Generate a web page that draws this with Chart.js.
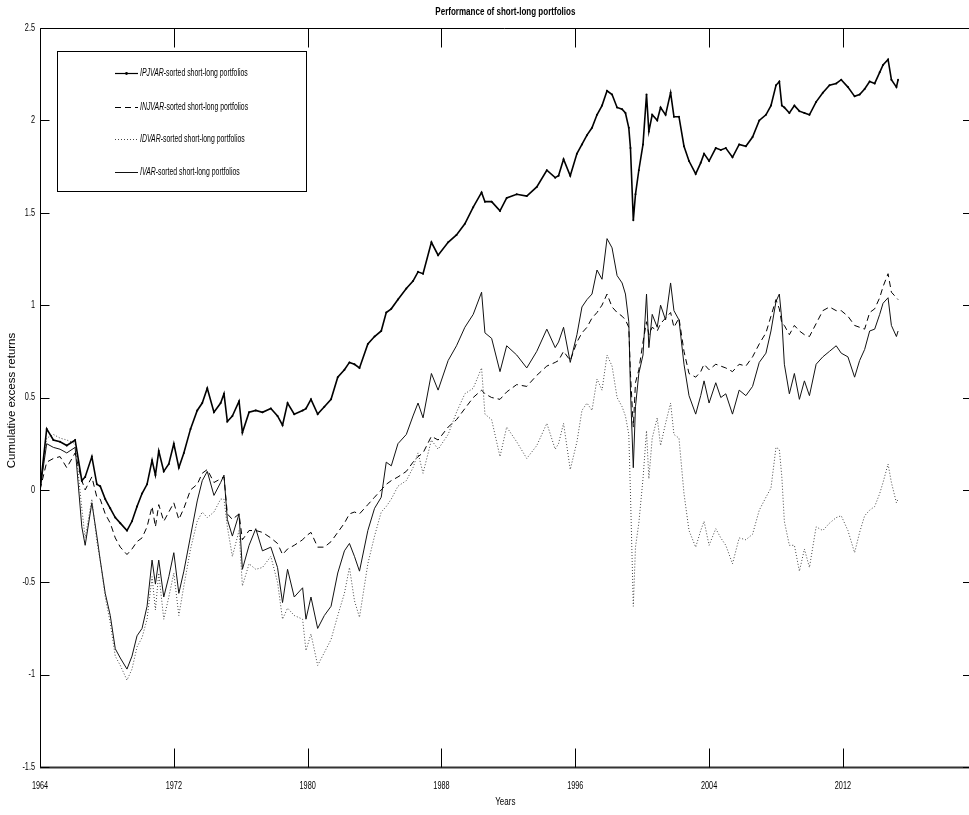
<!DOCTYPE html>
<html>
<head>
<meta charset="utf-8">
<title>Performance of short-long portfolios</title>
<script src="https://cdn.jsdelivr.net/npm/chart.js@4.4.1/dist/chart.umd.min.js"></script>
<style>
    html, body { margin: 0; padding: 0; background: #fff; }
    canvas { display: block; }
</style>
</head>
<body>
<canvas id="perfChart" width="969" height="815"></canvas>
<script>
// sample dates (decimal years) shared by all four series
const years = [
    1964.0, 1964.4, 1964.8, 1965.2, 1965.6, 1966.1, 1966.5, 1966.7, 1967.1, 1967.4,
    1967.6, 1967.9, 1968.2, 1968.5, 1968.8, 1969.2, 1969.5, 1969.8, 1970.1, 1970.4,
    1970.7, 1970.9, 1971.1, 1971.4, 1971.7, 1972.0, 1972.3, 1972.6, 1973.0, 1973.4,
    1973.7, 1974.0, 1974.4, 1974.8, 1975.0, 1975.2, 1975.5, 1975.9, 1976.1, 1976.5,
    1976.9, 1977.3, 1977.8, 1978.2, 1978.5, 1978.8, 1979.2, 1979.7, 1979.9, 1980.2,
    1980.6, 1981.0, 1981.4, 1981.8, 1982.2, 1982.5, 1982.8, 1983.1, 1983.6, 1984.0,
    1984.4, 1984.7, 1985.0, 1985.4, 1985.9, 1986.3, 1986.6, 1986.9, 1987.4, 1987.8,
    1988.4, 1988.9, 1989.4, 1989.9, 1990.4, 1990.6, 1991.0, 1991.5, 1991.9, 1992.5,
    1993.1, 1993.7, 1994.3, 1994.8, 1995.0, 1995.3, 1995.7, 1996.1, 1996.4, 1996.7,
    1997.0, 1997.3, 1997.6, 1997.9, 1998.2, 1998.5, 1998.8, 1999.0, 1999.2, 1999.3,
    1999.47, 1999.6, 1999.8, 2000.05, 2000.26, 2000.4, 2000.6, 2000.9, 2001.1, 2001.4,
    2001.7, 2001.9, 2002.2, 2002.5, 2002.8, 2003.2, 2003.5, 2003.7, 2004.0, 2004.4,
    2004.7, 2005.0, 2005.4, 2005.8, 2006.2, 2006.6, 2007.0, 2007.4, 2007.7, 2008.0,
    2008.2, 2008.35, 2008.5, 2008.8, 2009.1, 2009.4, 2009.7, 2010.0, 2010.4, 2010.8,
    2011.2, 2011.6, 2011.9, 2012.3, 2012.7, 2013.0, 2013.3, 2013.6, 2013.9, 2014.2,
    2014.4, 2014.7, 2014.9, 2015.2, 2015.3
];

const ipjvar = [
    0.00, 0.33, 0.27, 0.26, 0.24, 0.27, 0.05, 0.07, 0.18, 0.03,
    0.02, -0.05, -0.10, -0.15, -0.18, -0.22, -0.17, -0.09, -0.02, 0.03,
    0.16, 0.08, 0.21, 0.10, 0.14, 0.25, 0.12, 0.20, 0.33, 0.43,
    0.47, 0.55, 0.42, 0.47, 0.52, 0.37, 0.40, 0.48, 0.31, 0.42,
    0.43, 0.42, 0.44, 0.40, 0.35, 0.47, 0.41, 0.43, 0.44, 0.49,
    0.41, 0.45, 0.49, 0.61, 0.65, 0.69, 0.68, 0.66, 0.79, 0.83,
    0.86, 0.96, 0.98, 1.03, 1.09, 1.13, 1.18, 1.17, 1.34, 1.27,
    1.34, 1.38, 1.44, 1.53, 1.61, 1.56, 1.56, 1.51, 1.58, 1.60,
    1.59, 1.64, 1.73, 1.69, 1.70, 1.79, 1.70, 1.82, 1.87, 1.92,
    1.96, 2.03, 2.08, 2.16, 2.14, 2.07, 2.06, 2.04, 1.96, 1.85,
    1.46, 1.60, 1.73, 1.87, 2.14, 1.94, 2.03, 2.00, 2.07, 2.03,
    2.15, 2.02, 2.02, 1.86, 1.78, 1.71, 1.77, 1.82, 1.78, 1.85,
    1.84, 1.85, 1.80, 1.87, 1.86, 1.91, 2.00, 2.03, 2.08, 2.19,
    2.21, 2.08, 2.07, 2.04, 2.08, 2.05, 2.04, 2.03, 2.10, 2.15,
    2.19, 2.20, 2.22, 2.18, 2.13, 2.14, 2.17, 2.21, 2.20, 2.26,
    2.30, 2.33, 2.22, 2.18, 2.22
];

const injvar = [
    0.00, 0.15, 0.17, 0.18, 0.12, 0.20, 0.05, 0.00, 0.07, -0.04,
    -0.05, -0.13, -0.18, -0.26, -0.31, -0.35, -0.32, -0.28, -0.26, -0.20,
    -0.09, -0.20, -0.08, -0.17, -0.12, -0.07, -0.16, -0.10, 0.00, 0.03,
    0.09, 0.11, 0.04, 0.06, 0.07, -0.13, -0.16, -0.13, -0.27, -0.22,
    -0.22, -0.23, -0.26, -0.29, -0.35, -0.32, -0.30, -0.27, -0.25, -0.23,
    -0.31, -0.31, -0.28, -0.23, -0.18, -0.13, -0.12, -0.13, -0.08, -0.04,
    0.00, 0.03, 0.05, 0.07, 0.10, 0.15, 0.18, 0.20, 0.29, 0.27,
    0.34, 0.38, 0.44, 0.50, 0.54, 0.52, 0.50, 0.49, 0.53, 0.57,
    0.56, 0.62, 0.67, 0.69, 0.70, 0.75, 0.70, 0.80, 0.85, 0.88,
    0.93, 0.96, 1.00, 1.06, 0.99, 0.96, 0.94, 0.92, 0.88, 0.63,
    0.34, 0.58, 0.65, 0.80, 0.91, 0.84, 0.88, 0.86, 0.90, 0.93,
    0.96, 0.88, 0.93, 0.75, 0.63, 0.61, 0.64, 0.68, 0.65, 0.68,
    0.67, 0.66, 0.64, 0.68, 0.67, 0.72, 0.79, 0.85, 0.94, 1.03,
    0.98, 0.90, 0.89, 0.84, 0.89, 0.86, 0.84, 0.83, 0.90, 0.97,
    0.99, 0.97, 0.97, 0.94, 0.89, 0.88, 0.87, 0.96, 0.98, 1.04,
    1.10, 1.17, 1.07, 1.04, 1.03
];

const idvar = [
    0.00, 0.28, 0.30, 0.28, 0.27, 0.25, -0.10, -0.26, -0.05, -0.28,
    -0.38, -0.58, -0.72, -0.90, -0.95, -1.03, -0.97, -0.85, -0.80, -0.70,
    -0.47, -0.65, -0.45, -0.70, -0.58, -0.45, -0.68, -0.52, -0.32, -0.17,
    -0.12, -0.15, -0.12, -0.05, -0.05, -0.20, -0.36, -0.22, -0.52, -0.40,
    -0.43, -0.42, -0.36, -0.50, -0.70, -0.64, -0.68, -0.70, -0.87, -0.78,
    -0.95, -0.88, -0.81, -0.68, -0.56, -0.42, -0.60, -0.69, -0.40, -0.25,
    -0.12, -0.09, -0.05, 0.02, 0.05, 0.12, 0.20, 0.09, 0.27, 0.22,
    0.30, 0.42, 0.52, 0.55, 0.66, 0.41, 0.38, 0.18, 0.34, 0.26,
    0.17, 0.24, 0.36, 0.22, 0.25, 0.36, 0.11, 0.26, 0.43, 0.47,
    0.43, 0.60, 0.54, 0.73, 0.67, 0.50, 0.45, 0.40, 0.30, -0.02,
    -0.63, -0.31, -0.18, 0.06, 0.32, 0.06, 0.28, 0.39, 0.24, 0.36,
    0.47, 0.30, 0.28, -0.02, -0.22, -0.31, -0.22, -0.17, -0.30, -0.21,
    -0.26, -0.30, -0.40, -0.26, -0.27, -0.24, -0.11, -0.04, 0.01, 0.23,
    0.22, 0.07, -0.17, -0.30, -0.30, -0.44, -0.32, -0.42, -0.20, -0.22,
    -0.18, -0.15, -0.14, -0.22, -0.34, -0.23, -0.14, -0.11, -0.09, -0.02,
    0.04, 0.14, 0.04, -0.07, -0.05
];

const ivar = [
    0.00, 0.25, 0.23, 0.22, 0.20, 0.23, -0.20, -0.30, -0.07, -0.25,
    -0.38, -0.56, -0.68, -0.86, -0.91, -0.97, -0.90, -0.79, -0.75, -0.63,
    -0.38, -0.51, -0.38, -0.58, -0.47, -0.34, -0.56, -0.44, -0.25, -0.06,
    0.05, 0.10, -0.03, 0.04, 0.08, -0.16, -0.25, -0.13, -0.43, -0.30,
    -0.21, -0.33, -0.31, -0.42, -0.61, -0.43, -0.58, -0.53, -0.70, -0.58,
    -0.75, -0.68, -0.63, -0.45, -0.33, -0.29, -0.36, -0.44, -0.22, -0.10,
    -0.04, 0.15, 0.13, 0.25, 0.30, 0.40, 0.47, 0.39, 0.63, 0.54,
    0.70, 0.78, 0.88, 0.95, 1.07, 0.85, 0.82, 0.64, 0.78, 0.73,
    0.66, 0.75, 0.87, 0.77, 0.80, 0.88, 0.69, 0.84, 0.99, 1.03,
    1.06, 1.19, 1.14, 1.36, 1.31, 1.16, 1.12, 1.06, 0.91, 0.54,
    0.12, 0.45, 0.63, 0.73, 1.06, 0.77, 0.95, 0.88, 1.00, 0.92,
    1.12, 0.97, 0.92, 0.68, 0.51, 0.41, 0.51, 0.59, 0.47, 0.58,
    0.50, 0.52, 0.41, 0.54, 0.51, 0.56, 0.69, 0.74, 0.86, 1.02,
    1.06, 0.92, 0.68, 0.52, 0.63, 0.49, 0.59, 0.51, 0.68, 0.72,
    0.75, 0.78, 0.74, 0.72, 0.61, 0.70, 0.76, 0.86, 0.87, 0.95,
    1.01, 1.04, 0.89, 0.83, 0.86
];

const xTicks = [1964, 1972, 1980, 1988, 1996, 2004, 2012];
const yTicks = [-1.5, -1, -0.5, 0, 0.5, 1, 1.5, 2, 2.5];

const seriesNames = [
    'IPJVAR-sorted short-long portfolios',
    'INJVAR-sorted short-long portfolios',
    'IDVAR-sorted short-long portfolios',
    'IVAR-sorted short-long portfolios'
];

const FONT = "'Liberation Sans', Arial, Helvetica, sans-serif";
const SQUEEZE = 0.73; // the original figure is narrower than its text

function toPoints(values) {
    return years.map((yr, i) => ({ x: yr, y: values[i] }));
}

// text drawn narrower horizontally, like the squashed original
function narrowText(ctx, text, x, y, align, squeeze) {
    const sx = squeeze || SQUEEZE;
    const w = ctx.measureText(text).width * sx;
    let x0 = x;
    if (align === 'center') x0 = x - w / 2;
    if (align === 'right') x0 = x - w;
    ctx.save();
    ctx.translate(x0, y);
    ctx.scale(sx, 1);
    ctx.textAlign = 'left';
    ctx.fillText(text, 0, 0);
    ctx.restore();
    return w;
}

// MATLAB-like box, inward ticks, labels, title and legend
const matlabFrame = {
    id: 'matlabFrame',
    afterDatasetsDraw(chart) {
        const ctx = chart.ctx;
        const a = chart.chartArea;
        const xs = chart.scales.x;
        const ys = chart.scales.y;
        const L = Math.round(a.left) + 0.5;
        const T = Math.round(a.top) + 0.5;
        const B = Math.round(a.bottom) + 0.5;
        const R = chart.width;

        ctx.save();
        ctx.strokeStyle = '#000';
        ctx.lineWidth = 1;
        ctx.beginPath();
        ctx.moveTo(L, B);
        ctx.lineTo(L, T);
        ctx.lineTo(R, T);
        ctx.stroke();

        ctx.strokeStyle = '#333';
        ctx.lineWidth = 2;
        ctx.beginPath();
        ctx.moveTo(L - 0.5, B);
        ctx.lineTo(R, B);
        ctx.stroke();

        ctx.strokeStyle = '#000';
        ctx.lineWidth = 1;
        ctx.beginPath();
        xs.ticks.forEach(t => {
            const px = Math.round(xs.getPixelForValue(t.value)) + 0.5;
            ctx.moveTo(px, B);
            ctx.lineTo(px, B - 19);
            ctx.moveTo(px, T);
            ctx.lineTo(px, T + 19);
        });
        ys.ticks.forEach(t => {
            const py = Math.round(ys.getPixelForValue(t.value)) + 0.5;
            ctx.moveTo(L, py);
            ctx.lineTo(L + 9, py);
            ctx.moveTo(R, py);
            ctx.lineTo(R - 6, py);
        });
        ctx.stroke();

        // tick labels
        ctx.fillStyle = '#000';
        ctx.textBaseline = 'middle';
        ctx.font = '10px ' + FONT;
        xs.ticks.forEach(t => {
            narrowText(ctx, String(t.value), xs.getPixelForValue(t.value), a.bottom + 19, 'center');
        });
        ys.ticks.forEach(t => {
            narrowText(ctx, String(t.value), a.left - 5, ys.getPixelForValue(t.value), 'right');
        });

        // axis titles, centred on the full (partly cropped) axis box
        const midX = (a.left + xs.getPixelForValue(2020)) / 2 - 3;
        ctx.font = '11px ' + FONT;
        narrowText(ctx, 'Years', midX, a.bottom + 35, 'center');
        ctx.font = 'bold 11px ' + FONT;
        narrowText(ctx, 'Performance of short-long portfolios', midX, 12, 'center');

        ctx.save();
        ctx.translate(12, (a.top + a.bottom) / 2 + 3);
        ctx.rotate(-Math.PI / 2);
        ctx.font = '11.5px ' + FONT;
        ctx.textAlign = 'center';
        ctx.fillText('Cumulative excess returns', 0, 0);
        ctx.restore();

        // legend box
        ctx.fillStyle = '#fff';
        ctx.fillRect(57.5, 51.5, 249, 140);
        ctx.strokeStyle = '#000';
        ctx.lineWidth = 1;
        ctx.strokeRect(57.5, 51.5, 249, 140);

        const rows = [73, 107, 139, 172];
        chart.data.datasets.forEach((ds, i) => {
            const yRow = rows[i] + 0.5;
            ctx.save();
            ctx.strokeStyle = ds.borderColor;
            ctx.lineWidth = Math.min(ds.borderWidth, 1.2);
            ctx.setLineDash(ds.borderDash || []);
            ctx.beginPath();
            ctx.moveTo(115, yRow);
            ctx.lineTo(138, yRow);
            ctx.stroke();
            if (ds.pointRadius > 0) {
                ctx.fillStyle = ds.borderColor;
                ctx.beginPath();
                ctx.arc(126.5, yRow, 1.4, 0, Math.PI * 2);
                ctx.fill();
            }
            ctx.restore();

            const cut = ds.label.indexOf('-');
            ctx.fillStyle = '#000';
            ctx.textBaseline = 'middle';
            ctx.font = 'italic 10px ' + FONT;
            const w = narrowText(ctx, ds.label.slice(0, cut), 140, yRow, 'left', 0.69);
            ctx.font = '10px ' + FONT;
            narrowText(ctx, ds.label.slice(cut), 140 + w, yRow, 'left', 0.69);
        });
        ctx.restore();
    }
};

const ctx = document.getElementById('perfChart').getContext('2d');
const perfChart = new Chart(ctx, {
    type: 'line',
    data: {
        datasets: [
            {
                label: seriesNames[0],
                data: toPoints(ipjvar),
                borderColor: '#000',
                borderWidth: 1.6,
                pointRadius: 1,
                pointBorderWidth: 0,
                pointBackgroundColor: '#000'
            },
            {
                label: seriesNames[1],
                data: toPoints(injvar),
                borderColor: '#000',
                borderWidth: 1,
                borderDash: [6, 4],
                pointRadius: 0
            },
            {
                label: seriesNames[2],
                data: toPoints(idvar),
                borderColor: '#444',
                borderWidth: 1,
                borderDash: [1, 2],
                pointRadius: 0
            },
            {
                label: seriesNames[3],
                data: toPoints(ivar),
                borderColor: '#111',
                borderWidth: 1,
                pointRadius: 0
            }
        ]
    },
    options: {
        responsive: false,
        animation: false,
        elements: { line: { tension: 0 } },
        layout: { padding: { top: 28, right: 0, left: 0, bottom: 0 } },
        plugins: {
            legend: { display: false },
            title: { display: false },
            tooltip: { enabled: false }
        },
        scales: {
            x: {
                type: 'linear',
                min: 1964,
                max: 2019.3,
                grid: { display: false },
                border: { display: false },
                ticks: { display: false },
                afterBuildTicks: s => { s.ticks = xTicks.map(v => ({ value: v })); },
                afterFit: s => { s.height = 48; }
            },
            y: {
                min: -1.5,
                max: 2.5,
                grid: { display: false },
                border: { display: false },
                ticks: { display: false },
                afterBuildTicks: s => { s.ticks = yTicks.map(v => ({ value: v })); },
                afterFit: s => { s.width = 40; }
            }
        }
    },
    plugins: [matlabFrame]
});
</script>
</body>
</html>
